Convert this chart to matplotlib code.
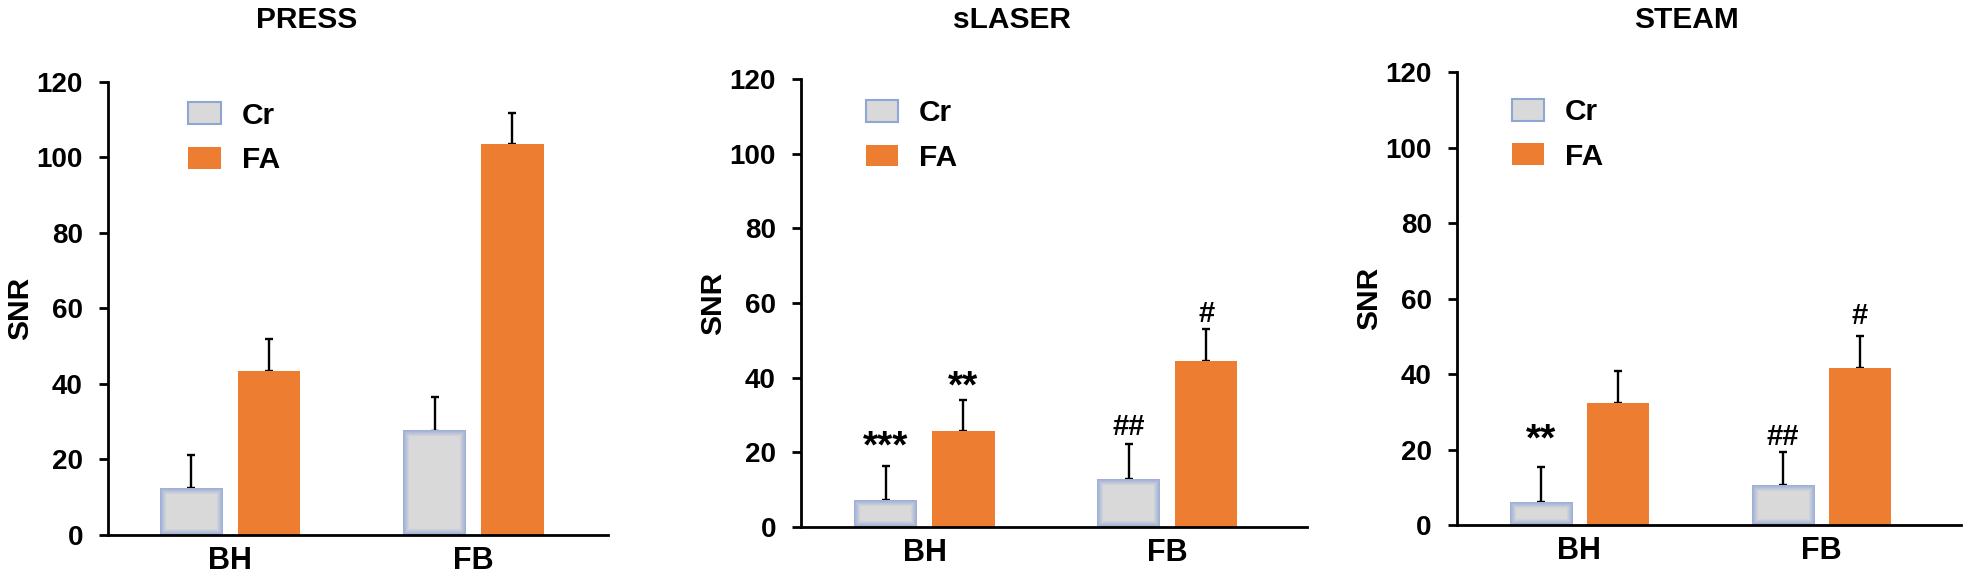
import matplotlib.pyplot as plt
import numpy as np
from matplotlib.patches import Patch

plt.rcParams['font.family'] = ['Liberation Sans', 'DejaVu Sans']
plt.rcParams['font.weight'] = 'bold'

groups = ['BH', 'FB']
series = ['Cr', 'FA']
titles = ['PRESS', 'sLASER', 'STEAM']

press_cr = [12.4, 27.6]
press_cr_err = [8.8, 8.8]
press_fa = [43.5, 103.4]
press_fa_err = [8.4, 8.4]

slaser_cr = [7.2, 12.7]
slaser_cr_err = [9.1, 9.4]
slaser_fa = [25.7, 44.4]
slaser_fa_err = [8.3, 8.6]

steam_cr = [6.0, 10.6]
steam_cr_err = [9.3, 8.8]
steam_fa = [32.4, 41.5]
steam_fa_err = [8.5, 8.6]

# significance marks: (group, series, text, baseline height)
press_marks = []
slaser_marks = [(0, 'Cr', '***', 18.6), (0, 'FA', '**', 34.7),
                (1, 'Cr', '##', 24.6), (1, 'FA', '#', 55.0)]
steam_marks = [(0, 'Cr', '**', 19.7), (1, 'Cr', '##', 21.2), (1, 'FA', '#', 53.3)]

cr_face = np.array([0.851, 0.851, 0.851])
cr_edge = np.array([0.62, 0.69, 0.85])
fa_color = '#ED7D31'


def glow(ax, rect):
    # soft blue rim inside the grey bars
    x0, x1 = rect.get_x(), rect.get_x() + rect.get_width()
    (px0, py0), (px1, py1) = ax.transData.transform([(x0, 0), (x1, rect.get_height())])
    nw, nh = max(int(round(px1 - px0)), 2), max(int(round(py1 - py0)), 2)
    jj, ii = np.meshgrid(np.arange(nw), np.arange(nh))
    d = np.minimum(np.minimum(ii, nh - 1 - ii), np.minimum(jj, nw - 1 - jj))
    t = np.clip(d / 6.0, 0, 1)[..., None]
    img = cr_edge * (1 - t) + cr_face * t
    ax.imshow(img, extent=[x0, x1, 0, rect.get_height()], aspect='auto',
              interpolation='bilinear', origin='lower', zorder=2)


def panel(ax, cr, cr_err, fa, fa_err, marks, xlim, leg_xy):
    x = np.arange(len(groups))
    off, w = 0.16, 0.257
    bars_cr = ax.bar(x - off, cr, w, color=cr_face, zorder=2)
    ax.bar(x + off, fa, w, color=fa_color, zorder=2)
    ax.errorbar(x - off, cr, yerr=[np.zeros(len(cr)), cr_err], fmt='none',
                ecolor='black', elinewidth=1.7, capsize=3, capthick=1.7, zorder=1)
    ax.errorbar(x + off, fa, yerr=[np.zeros(len(fa)), fa_err], fmt='none',
                ecolor='black', elinewidth=1.7, capsize=3, capthick=1.7, zorder=1)
    ax.set_xlim(*xlim)
    ax.set_ylim(0, 120)
    for r in bars_cr:
        glow(ax, r)
    for g, s, txt, yv in marks:
        xp = g - off if s == 'Cr' else g + off
        fs = 28 if '*' in txt else 21
        ax.text(xp, yv, txt, ha='center', va='baseline', fontsize=fs, fontweight='bold')

    ax.set_xticks(x)
    ax.set_xticklabels(groups)
    ax.set_yticks(np.arange(0, 121, 20))
    ax.set_ylabel('SNR', fontsize=21.5, fontweight='bold', labelpad=1.5)
    for sp in ['top', 'right']:
        ax.spines[sp].set_visible(False)
    for sp in ['left', 'bottom']:
        ax.spines[sp].set_linewidth(2)
    ax.tick_params(axis='y', direction='out', length=6.3, width=2, pad=12, labelsize=20)
    ax.tick_params(axis='x', length=0, pad=8, labelsize=22)

    handles = [Patch(facecolor=cr_face, edgecolor='#8FA5D3', linewidth=1.5),
               Patch(facecolor=fa_color)]
    ax.legend(handles, series, loc='upper left', bbox_to_anchor=leg_xy, frameon=False,
              fontsize=21.5, handlelength=1.09, handleheight=0.75, handletextpad=0.7,
              labelspacing=0.55, borderpad=0, borderaxespad=0)


fig = plt.figure(figsize=(19.68, 5.76), dpi=100)
ax1 = fig.add_axes([0.05503, 0.07118, 0.25407, 0.78698])
ax2 = fig.add_axes([0.40722, 0.08559, 0.25691, 0.77674])
ax3 = fig.add_axes([0.74045, 0.08854, 0.25584, 0.78594])

panel(ax1, press_cr, press_cr_err, press_fa, press_fa_err, press_marks,
      (-0.502, 1.555), (0.16, 0.956))
panel(ax2, slaser_cr, slaser_cr_err, slaser_fa, slaser_fa_err, slaser_marks,
      (-0.507, 1.575), (0.127, 0.955))
panel(ax3, steam_cr, steam_cr_err, steam_fa, steam_fa_err, steam_marks,
      (-0.505, 1.576), (0.108, 0.943))

for t, xc in zip(titles, [307, 1012, 1686]):
    fig.text(xc / 1968, 0.966, t, ha='center', va='center', fontsize=21.5, fontweight='bold')

fig.savefig('out.png', dpi=100)
